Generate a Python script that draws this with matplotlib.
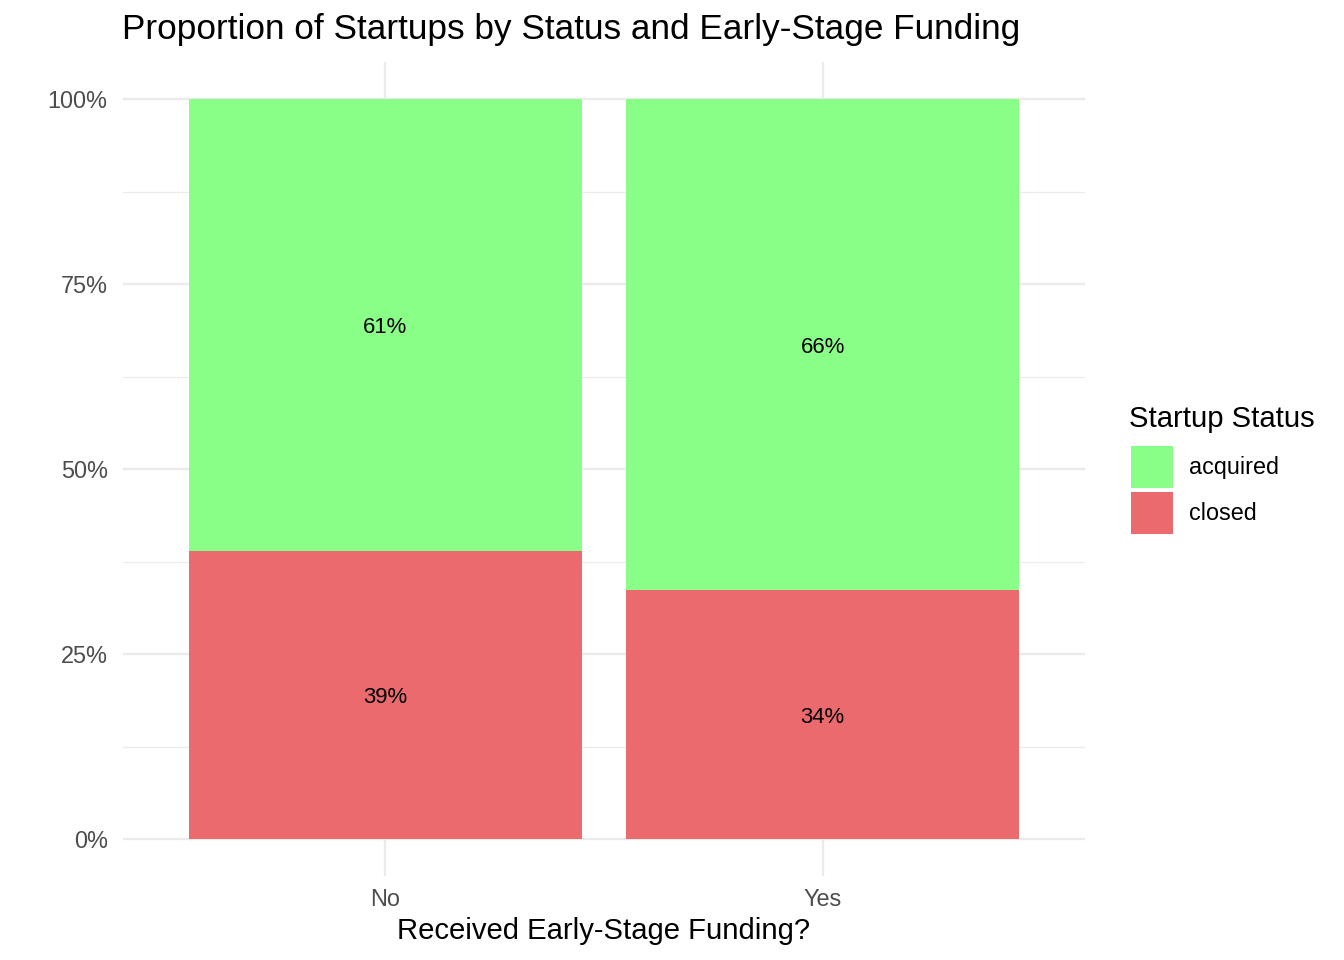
import matplotlib
matplotlib.use("Agg")
import matplotlib.pyplot as plt
from matplotlib.patches import Patch
from matplotlib.ticker import FixedLocator, PercentFormatter

plt.rcParams['font.family'] = ['Liberation Sans', 'DejaVu Sans']

# data
funding = ['No', 'Yes']
statuses = ['acquired', 'closed']
closed_share = [0.389, 0.336]
acquired_share = [1 - v for v in closed_share]
status_colors = {'acquired': '#8AFF88', 'closed': '#EA6A6E'}

fig = plt.figure(figsize=(13.44, 9.6), dpi=100)
W, H = 1344, 960
ax = fig.add_axes([123 / W, 1 - 876 / H, (1085 - 123) / W, (876 - 62) / H])

x = list(range(len(funding)))
ax.bar(x, closed_share, width=0.9, color=status_colors['closed'], zorder=2)
ax.bar(x, acquired_share, width=0.9, bottom=closed_share,
       color=status_colors['acquired'], zorder=2)

for xi, c, a in zip(x, closed_share, acquired_share):
    ax.text(xi, c / 2, f'{round(c * 100)}%', ha='center', va='center_baseline',
            fontsize=15.9, color='black', zorder=3)
    ax.text(xi, c + a / 2, f'{round(a * 100)}%', ha='center', va='center_baseline',
            fontsize=15.9, color='black', zorder=3)

ax.set_xlim(-0.6, len(funding) - 0.4)
ax.set_ylim(-0.05, 1.05)
ax.set_xticks(x)
ax.set_xticklabels(funding)
ax.set_yticks([0, 0.25, 0.5, 0.75, 1.0])
ax.yaxis.set_minor_locator(FixedLocator([0.125, 0.375, 0.625, 0.875]))
ax.yaxis.set_major_formatter(PercentFormatter(1.0, decimals=0))

ax.grid(True, which='major', color='#EBEBEB', linewidth=1.7, zorder=0)
ax.grid(True, which='minor', axis='y', color='#EBEBEB', linewidth=0.9, zorder=0)
ax.set_axisbelow(True)
for s in ax.spines.values():
    s.set_visible(False)
ax.tick_params(which='both', length=0, labelsize=16.9, labelcolor='#4D4D4D')
ax.tick_params(axis='x', pad=9)
ax.tick_params(axis='y', pad=11)

ax.set_xlabel('Received Early-Stage Funding?', fontsize=21.1, labelpad=4)

fig.text(122 / W, 1 - 39 / H, 'Proportion of Startups by Status and Early-Stage Funding',
         fontsize=25.3, ha='left', va='baseline')

# legend: title as separate text, entries via legend
fig.text(1129 / W, 1 - 427 / H, 'Startup Status', fontsize=21.1,
         ha='left', va='baseline')
handles = [Patch(facecolor=status_colors[s], edgecolor='none', label=s) for s in statuses]
leg = fig.legend(handles=handles, loc='upper left',
                 bbox_to_anchor=(1131 / W, 1 - 446 / H), frameon=False,
                 fontsize=16.8, handlelength=1.8, handleheight=2.38,
                 labelspacing=0.19, handletextpad=0.7,
                 borderpad=0, borderaxespad=0)

fig.savefig('out.png', dpi=100)
